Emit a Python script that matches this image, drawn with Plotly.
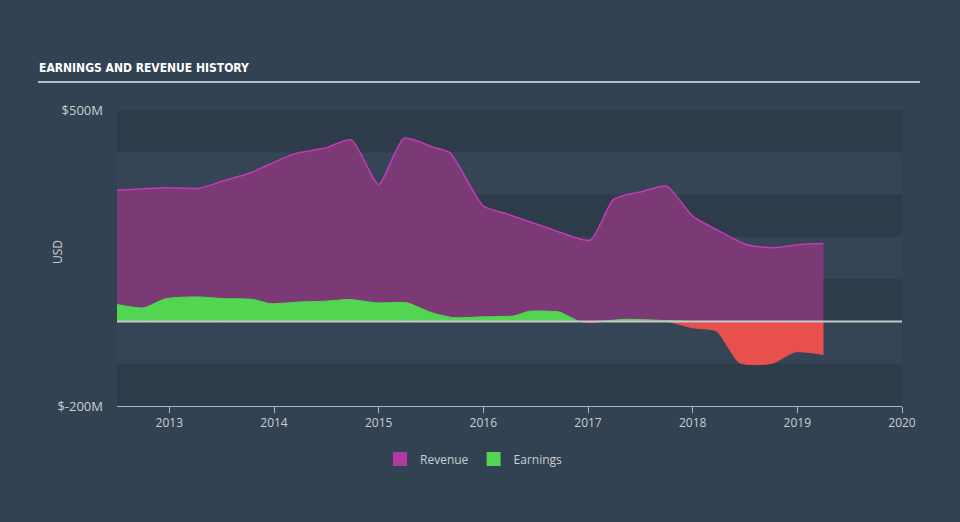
import plotly.graph_objects as go
import numpy as np

# Revenue (USD millions)
rev_x = [2012.5, 2012.97, 2013.29, 2013.51, 2013.77, 2014.18, 2014.5, 2014.74, 2015.0,
         2015.24, 2015.52, 2015.68, 2016.0, 2016.19, 2016.64, 2016.73, 2017.02, 2017.24,
         2017.37, 2017.5, 2017.75, 2018.0, 2018.26, 2018.51, 2018.76, 2019.03, 2019.25]
rev_y = [310, 316, 315, 332, 351, 395, 411, 429, 324,
         433, 412, 399, 273, 257, 219, 211, 192, 288,
         300, 306, 320, 249, 213, 182, 174, 182, 184]

# Earnings (USD millions)
earn_x = [2012.5, 2012.75, 2012.97, 2013.26, 2013.51, 2013.8, 2013.96, 2014.25, 2014.5,
          2014.72, 2014.98, 2015.27, 2015.49, 2015.71, 2016.0, 2016.29, 2016.44, 2016.64,
          2016.73, 2016.92, 2017.02, 2017.14, 2017.37, 2017.75, 2018.0, 2018.23, 2018.45,
          2018.76, 2018.98, 2019.25]
earn_y = [40, 32, 54, 58, 54, 52, 42, 46, 48,
          52, 44, 44, 22, 9, 11, 13, 24, 24,
          22, 0, -3, 1, 5, 2, -15, -23, -98,
          -99, -72, -78]

x_ticks = [2013, 2014, 2015, 2016, 2017, 2018, 2019, 2020]
y_ticks = [-200, 500]
y_tick_text = ["$-200M", "$500M"]

BG = "#334252"
DARK = "#2e3b4a"
TXT = "#c9ced4"
FONT = "Open Sans"
REV_LINE = "#c03cb0"
REV_FILL = "#7b3a75"
GREEN = "#52d652"
RED = "#e8504e"

fig = go.Figure()

# Revenue area
fig.add_trace(go.Scatter(
    x=rev_x, y=rev_y, mode="lines", name="Revenue", showlegend=False,
    line=dict(color=REV_LINE, width=1.5, shape="spline", smoothing=0.6),
    fill="tozeroy", fillcolor=REV_FILL,
))

ey = np.array(earn_y, dtype=float)
# Earnings positive part (green)
fig.add_trace(go.Scatter(
    x=earn_x, y=np.maximum(ey, 0), mode="lines", name="Earnings", showlegend=False,
    line=dict(color=GREEN, width=1, shape="spline", smoothing=0.6),
    fill="tozeroy", fillcolor=GREEN,
))
# Earnings negative part (red)
fig.add_trace(go.Scatter(
    x=earn_x, y=np.minimum(ey, 0), mode="lines", name="Earnings (loss)", showlegend=False,
    line=dict(color=RED, width=1, shape="spline", smoothing=0.6),
    fill="tozeroy", fillcolor=RED,
))

# legend-only entries with square swatches
for name, col in [("Revenue", "#b03aa0"), ("Earnings", GREEN)]:
    fig.add_trace(go.Scatter(
        x=[None], y=[None], mode="markers", name=name,
        marker=dict(symbol="square", size=14, color=col, line=dict(width=0)),
    ))

shapes = []
# alternating horizontal bands
for lo in range(-200, 500, 100):
    idx = (lo + 200) // 100
    if idx % 2 == 0:
        shapes.append(dict(type="rect", xref="paper", yref="y", x0=0, x1=1, y0=lo, y1=lo + 100,
                           fillcolor=DARK, line=dict(width=0), layer="below"))
# zero line
shapes.append(dict(type="line", xref="paper", yref="y", x0=0, x1=1, y0=0, y1=0,
                   line=dict(color="#c3c7cc", width=2), layer="above"))
# title underline
shapes.append(dict(type="line", xref="paper", yref="paper",
                   x0=(38 - 117) / 785, x1=(920 - 117) / 785,
                   y0=(406 - 82) / 296, y1=(406 - 82) / 296,
                   line=dict(color="#b9bec5", width=2)))

fig.update_layout(
    width=960, height=522,
    paper_bgcolor=BG, plot_bgcolor="#354555",
    margin=dict(l=117, r=58, t=110, b=116),
    font=dict(family=FONT, color=TXT, size=12),
    shapes=shapes,
    showlegend=True,
    legend=dict(orientation="h", x=(474 - 117) / 785, xanchor="center", y=-0.13, yanchor="top",
                font=dict(size=12, color=TXT), bgcolor="rgba(0,0,0,0)",
                itemwidth=30, tracegroupgap=0),
    annotations=[
        dict(text="<b>EARNINGS AND REVENUE HISTORY</b>", xref="paper", yref="paper",
             x=(37 - 117) / 785, y=(406 - 68) / 296, xanchor="left", yanchor="middle",
             showarrow=False,
             font=dict(family="DejaVu Sans Condensed, DejaVu Sans, sans-serif",
                       size=12, color="#ffffff")),
        dict(text="USD", xref="paper", yref="paper", x=(57 - 117) / 785, y=(406 - 252) / 296,
             xanchor="center", yanchor="middle", textangle=-90, showarrow=False,
             font=dict(size=12, color=TXT)),
    ],
    xaxis=dict(range=[2012.5, 2020], tickvals=x_ticks, ticktext=[str(t) for t in x_ticks],
               showgrid=False, zeroline=False, showline=True, linecolor="#aab4c0", linewidth=1,
               ticks="outside", ticklen=6, tickcolor="#aab4c0", tickfont=dict(size=12, color=TXT)),
    yaxis=dict(range=[-200, 500], tickvals=y_ticks, ticktext=y_tick_text,
               showgrid=False, zeroline=False, showline=False, ticks="",
               ticklabelstandoff=13,
               tickfont=dict(size=13, color=TXT)),
)

fig.write_html("out.html")
